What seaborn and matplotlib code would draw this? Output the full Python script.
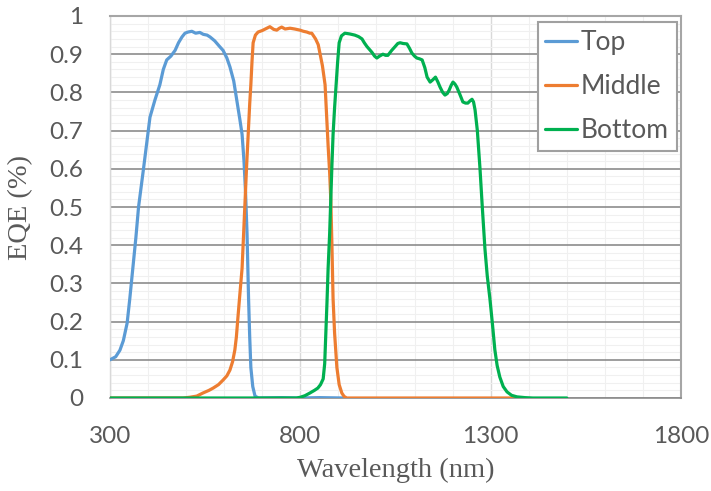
import numpy as np
import pandas as pd
import matplotlib
matplotlib.use("Agg")
import matplotlib.pyplot as plt
import seaborn as sns
from matplotlib.ticker import MultipleLocator, FixedLocator

# ---------------- data ----------------
top_wl = [300, 315, 326, 335, 345, 352, 360, 368, 375, 388, 405, 418, 431, 440, 449,
          460, 471, 480, 489, 497, 505, 515, 525, 536, 545, 555, 563, 575, 588, 597,
          607, 615, 625, 633, 641, 647, 652, 656, 660, 664, 667, 670, 675, 681, 690,
          750, 800, 850, 915]
top_eqe = [0.100, 0.108, 0.125, 0.150, 0.196, 0.260, 0.340, 0.420, 0.500, 0.600, 0.735,
           0.780, 0.820, 0.860, 0.885, 0.895, 0.910, 0.930, 0.945, 0.955, 0.958, 0.960,
           0.955, 0.957, 0.952, 0.950, 0.945, 0.935, 0.920, 0.910, 0.890, 0.867, 0.830,
           0.780, 0.730, 0.690, 0.620, 0.540, 0.430, 0.260, 0.160, 0.080, 0.030, 0.005,
           0.0, 0.001, 0.0, 0.001, 0.0]

mid_wl = [300, 480, 492, 510, 528, 544, 560, 571, 585, 597, 607, 615, 622, 628, 632,
          636, 641, 647, 651, 655, 659, 663, 667, 670, 673, 676, 682, 689, 700, 712,
          720, 730, 738, 745, 751, 760, 773, 785, 799, 808, 817, 825, 830, 840, 847,
          852, 858, 865, 869, 873, 877, 880, 883, 886, 890, 896, 902, 909, 915, 922,
          1000, 1370]
mid_eqe = [0.0, 0.0, 0.0, 0.002, 0.005, 0.013, 0.020, 0.026, 0.035, 0.047, 0.058, 0.073,
           0.095, 0.126, 0.160, 0.210, 0.270, 0.340, 0.430, 0.520, 0.610, 0.690, 0.770,
           0.820, 0.880, 0.930, 0.950, 0.958, 0.962, 0.968, 0.972, 0.965, 0.963, 0.968,
           0.971, 0.966, 0.968, 0.966, 0.963, 0.960, 0.958, 0.955, 0.955, 0.940, 0.925,
           0.900, 0.870, 0.820, 0.740, 0.660, 0.590, 0.520, 0.400, 0.260, 0.170, 0.080,
           0.035, 0.013, 0.004, 0.0, 0.0, 0.0]

bot_wl = [300, 790, 800, 812, 825, 837, 846, 853, 860, 864, 867, 870, 873, 877, 880,
          883, 886, 890, 894, 898, 902, 908, 917, 930, 943, 953, 962, 968, 975, 982,
          988, 995, 1001, 1008, 1017, 1024, 1030, 1040, 1049, 1056, 1062, 1070, 1080,
          1087, 1093, 1100, 1106, 1113, 1120, 1127, 1133, 1141, 1148, 1155, 1161, 1167,
          1174, 1180, 1186, 1191, 1196, 1201, 1206, 1211, 1219, 1227, 1234, 1240, 1246,
          1251, 1255, 1259, 1265, 1272, 1278, 1285, 1291, 1298, 1305, 1311, 1317, 1324,
          1333, 1343, 1355, 1369, 1390, 1411, 1500]
bot_eqe = [0.0, 0.0, 0.002, 0.006, 0.013, 0.020, 0.026, 0.035, 0.050, 0.090, 0.170,
           0.250, 0.340, 0.430, 0.520, 0.610, 0.690, 0.760, 0.820, 0.880, 0.930, 0.948,
           0.955, 0.953, 0.950, 0.946, 0.940, 0.930, 0.920, 0.912, 0.905, 0.895, 0.890,
           0.895, 0.900, 0.897, 0.897, 0.910, 0.920, 0.928, 0.930, 0.928, 0.927, 0.915,
           0.903, 0.895, 0.890, 0.888, 0.885, 0.865, 0.840, 0.827, 0.833, 0.840, 0.828,
           0.814, 0.800, 0.793, 0.797, 0.806, 0.818, 0.827, 0.822, 0.814, 0.795, 0.775,
           0.772, 0.772, 0.778, 0.782, 0.775, 0.754, 0.700, 0.600, 0.500, 0.390, 0.320,
           0.260, 0.190, 0.126, 0.085, 0.055, 0.030, 0.016, 0.007, 0.003, 0.001, 0.0, 0.0]

series_names = ["Top", "Middle", "Bottom"]
series_colors = ["#5B9BD5", "#ED7D31", "#00B050"]
x_ticks = [300, 800, 1300, 1800]
y_ticks = [0, 0.1, 0.2, 0.3, 0.4, 0.5, 0.6, 0.7, 0.8, 0.9, 1.0]
y_tick_labels = ["0", "0.1", "0.2", "0.3", "0.4", "0.5", "0.6", "0.7", "0.8", "0.9", "1"]

df = pd.concat([
    pd.DataFrame({"Wavelength": top_wl, "EQE": top_eqe, "Cell": "Top"}),
    pd.DataFrame({"Wavelength": mid_wl, "EQE": mid_eqe, "Cell": "Middle"}),
    pd.DataFrame({"Wavelength": bot_wl, "EQE": bot_eqe, "Cell": "Bottom"}),
], ignore_index=True)

# ---------------- plot ----------------
sns.set_style("white")
plt.rcParams["font.family"] = ["Lato", "DejaVu Sans"]

fig = plt.figure(figsize=(7.11, 4.91), dpi=100)
ax = fig.add_axes([110 / 711, 1 - 398 / 491, 571 / 711, 382 / 491])

sns.lineplot(data=df, x="Wavelength", y="EQE", hue="Cell", hue_order=series_names,
             palette=series_colors, linewidth=2.3, sort=False, estimator=None, ax=ax,
             zorder=3)

ax.set_xlim(300, 1800)
ax.set_ylim(0, 1.0)

# grid
ax.xaxis.set_major_locator(FixedLocator(x_ticks))
ax.xaxis.set_minor_locator(MultipleLocator(100))
ax.yaxis.set_major_locator(FixedLocator(y_ticks))
ax.yaxis.set_minor_locator(MultipleLocator(0.02))
ax.set_yticklabels(y_tick_labels)
ax.grid(which="minor", axis="both", color="#f0f0f0", linewidth=0.8, zorder=0)
ax.grid(which="major", axis="x", color="#d9d9d9", linewidth=1.0, zorder=1)
ax.grid(which="major", axis="y", color="#8c8c8c", linewidth=1.2, zorder=1)
ax.set_axisbelow(True)

for side in ["top", "right"]:
    ax.spines[side].set_color("#a6a6a6")
    ax.spines[side].set_linewidth(1.5)
ax.spines["left"].set_color("#d9d9d9")
ax.spines["left"].set_linewidth(1.0)
ax.spines["bottom"].set_color("#8c8c8c")
ax.spines["bottom"].set_linewidth(1.2)

ax.tick_params(axis="both", which="major", direction="out", length=6, width=1.0,
               color="#bfbfbf", labelcolor="#595959", labelsize=17.5)
ax.tick_params(axis="y", which="major", pad=13)
ax.tick_params(axis="x", which="major", pad=14)
ax.tick_params(which="minor", length=0)

ax.set_xlabel("Wavelength (nm)", family="Liberation Serif", fontsize=20.5,
              color="#595959", labelpad=8)
ax.set_ylabel("EQE (%)", family="Liberation Serif", fontsize=20.5,
              color="#595959", labelpad=12)

leg = ax.legend(loc="upper right", bbox_to_anchor=(0.993, 0.984), borderaxespad=0,
                fontsize=19, frameon=True, fancybox=False, handlelength=1.2,
                handletextpad=0.15, labelspacing=0.72, borderpad=0.3)
leg.get_frame().set_edgecolor("#a0a0a0")
leg.get_frame().set_linewidth(1.5)
leg.get_frame().set_alpha(1)
for t in leg.get_texts():
    t.set_color("#595959")
for h in leg.get_lines():
    h.set_linewidth(2.3)

fig.savefig("out.png", dpi=100, facecolor="white")
